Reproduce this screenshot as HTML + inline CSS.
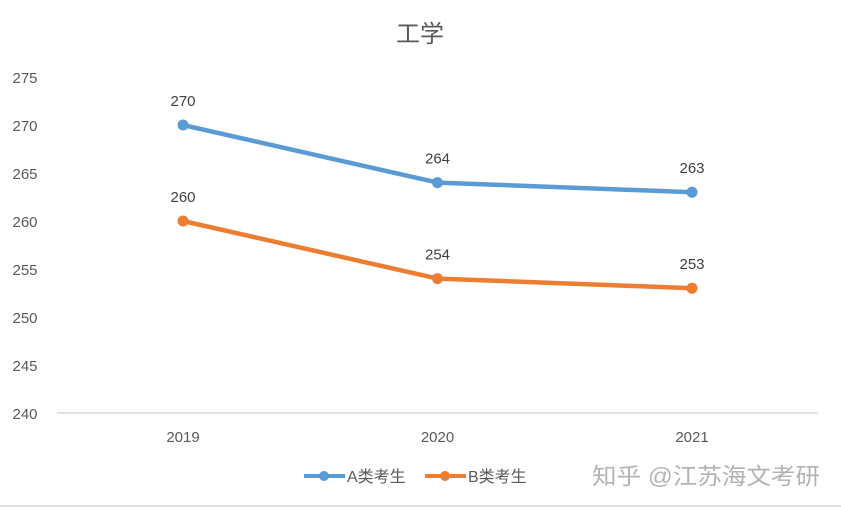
<!DOCTYPE html>
<html><head><meta charset="utf-8">
<style>
body{margin:0;background:#fff;}
svg{display:block;font-family:"Liberation Sans","Noto Sans CJK SC",sans-serif;}
</style></head>
<body>
<svg id="chart" width="841" height="508">
<rect width="841" height="508" fill="#fff"/>
<text x="420" y="42" text-anchor="middle" font-size="24" fill="#595959">工学</text>
<g id="yticks"></g>
<line x1="57" y1="413" x2="818" y2="413" stroke="#d9d9d9" stroke-width="1.5"/>
<g id="xticks"></g>
<g id="series"></g>
<g>
<g>
<line x1="304" y1="476" x2="345" y2="476" stroke="#5b9bd5" stroke-width="4"/>
<circle cx="324" cy="476" r="5" fill="#5b9bd5"/>
<text x="347" y="482" font-size="16" fill="#595959">A类考生</text></g>
<g>
<line x1="425" y1="476" x2="466" y2="476" stroke="#ed7d31" stroke-width="4"/>
<circle cx="445" cy="476" r="5" fill="#ed7d31"/>
<text x="468" y="482" font-size="16" fill="#595959">B类考生</text></g>
</g>
<text x="592" y="484" font-size="23" fill="#b3b3b3" textLength="228" lengthAdjust="spacingAndGlyphs">知乎 @江苏海文考研</text>
<line x1="0" y1="506" x2="841" y2="506" stroke="#e0e0e0" stroke-width="2"/>
</svg>
<script>
const categories=["2019","2020","2021"];
const seriesA=[270,264,263];
const seriesB=[260,254,253];
const yTicks=[240,245,250,255,260,265,270,275];
const NS="http://www.w3.org/2000/svg";
function y(v){return 413-(v-240)*(413-77)/35;}
function x(i){return 183+i*254.5;}
function mk(t,a,p){const e=document.createElementNS(NS,t);for(const k in a)e.setAttribute(k,a[k]);p.appendChild(e);return e;}
const yt=document.getElementById('yticks');
yTicks.forEach(v=>{const t=mk('text',{x:25,y:y(v)+6,'text-anchor':'middle','font-size':15,fill:'#595959'},yt);


t.textContent=v;});
const xt=document.getElementById('xticks');
categories.forEach((c,i)=>{const t=mk('text',{x:x(i),y:442,'text-anchor':'middle','font-size':15,fill:'#595959'},xt);


t.textContent=c;});
const sg=document.getElementById('series');
[[seriesA,'#5b9bd5','a'],[seriesB,'#ed7d31','b']].forEach(([d,col,n])=>{
const p=mk('polyline',{points:d.map((v,i)=>x(i)+','+y(v)).join(' '),fill:'none',stroke:col,'stroke-width':4.5,'stroke-linejoin':'round'},sg);


d.forEach((v,i)=>{const c=mk('circle',{cx:x(i),cy:y(v),r:5.5,fill:col},sg);


const t=mk('text',{x:x(i),y:y(v)-19,'text-anchor':'middle','font-size':15,fill:'#404040'},sg);


t.textContent=v;});
});
</script>
</body></html>
